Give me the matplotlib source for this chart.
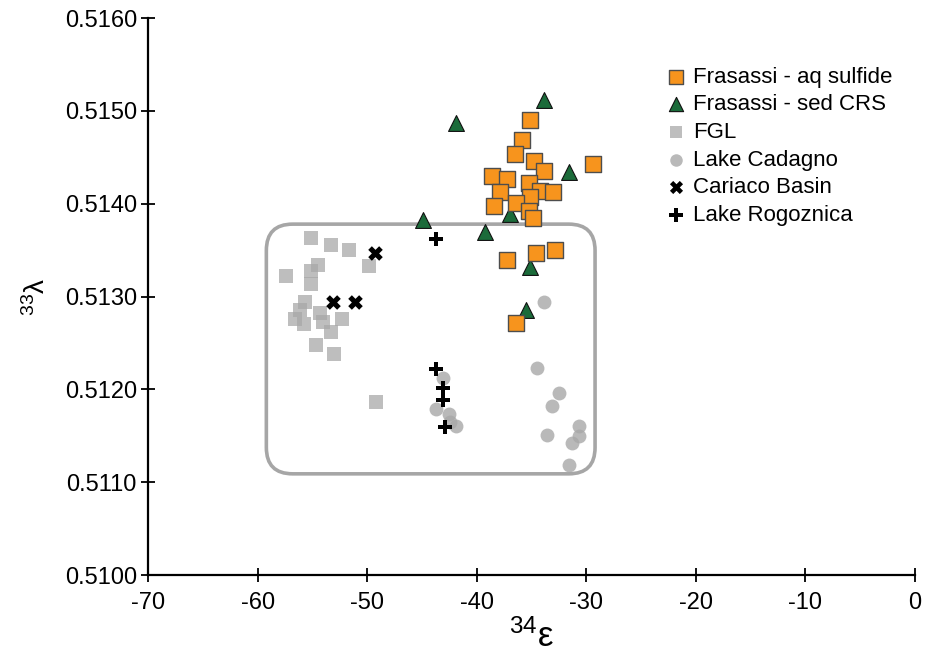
import numpy as np
import matplotlib
matplotlib.use("Agg")
import matplotlib.pyplot as plt
from matplotlib.patches import FancyBboxPatch

plt.rcParams['font.family'] = ['Liberation Sans', 'DejaVu Sans']
plt.rcParams['mathtext.fontset'] = 'custom'
plt.rcParams['mathtext.rm'] = 'Liberation Sans'
plt.rcParams['mathtext.it'] = 'Liberation Sans'
plt.rcParams['axes.unicode_minus'] = False

# Frasassi - aq sulfide
aq_x = [-35.1, -35.9, -36.5, -34.8, -33.9, -29.4, -38.6, -37.2, -35.2, -37.9,
        -34.2, -33.0, -35.1, -38.4, -36.4, -35.2, -34.9, -37.2, -34.6, -32.9, -36.4]
aq_y = [0.51490, 0.51469, 0.51454, 0.51446, 0.51435, 0.51443, 0.51430, 0.51427,
        0.51422, 0.51413, 0.51414, 0.51413, 0.51407, 0.51398, 0.51401, 0.51392,
        0.51385, 0.51339, 0.51347, 0.51350, 0.51272]

# Frasassi - sed CRS
crs_x = [-33.9, -41.9, -31.6, -37.0, -44.9, -39.2, -35.1, -35.5]
crs_y = [0.51512, 0.51487, 0.51434, 0.51389, 0.51382, 0.51370, 0.51332, 0.51286]

# FGL
fgl_x = [-55.1, -53.3, -51.7, -57.4, -54.5, -55.1, -55.1, -49.8, -55.7, -56.1,
         -56.6, -55.8, -54.3, -54.0, -52.3, -53.3, -54.7, -53.0, -49.2]
fgl_y = [0.51363, 0.51356, 0.51350, 0.51322, 0.51334, 0.51327, 0.51313, 0.51333,
         0.51294, 0.51285, 0.51276, 0.51270, 0.51282, 0.51273, 0.51276, 0.51262,
         0.51248, 0.51238, 0.51186]

# Lake Cadagno
cad_x = [-33.9, -43.1, -43.7, -42.5, -41.9, -42.4, -34.5, -32.5, -33.1, -33.6,
         -30.7, -30.7, -31.3, -31.6]
cad_y = [0.51294, 0.51212, 0.51179, 0.51173, 0.51160, 0.51165, 0.51223, 0.51196,
         0.51182, 0.51151, 0.51160, 0.51150, 0.51142, 0.51119]

# Cariaco Basin
car_x = [-49.3, -53.1, -51.1]
car_y = [0.51347, 0.51294, 0.51294]

# Lake Rogoznica
rog_x = [-43.7, -43.7, -43.1, -43.1, -42.9]
rog_y = [0.51362, 0.51222, 0.51201, 0.51189, 0.51159]

# rounded box bounds (data units)
box_x0, box_x1 = -59.2, -29.2
box_y0, box_y1 = 0.51109, 0.51378

fig = plt.figure(figsize=(9.28, 6.69), dpi=100)
ax = fig.add_axes([0.1595, 0.1405, 0.8265, 0.8325])
ax.set_xlim(-70, 0)
ax.set_ylim(0.5100, 0.5160)

# rounded box, corrected for axis aspect
ax_w = 0.8265 * 9.28 * 100
ax_h = 0.8325 * 6.69 * 100
aspect = (0.006 / ax_h) / (70 / ax_w)
box = FancyBboxPatch((box_x0, box_y0), box_x1 - box_x0, box_y1 - box_y0,
                     boxstyle="round,pad=0,rounding_size=2.4",
                     mutation_aspect=aspect, fill=False,
                     edgecolor='#a6a6a6', linewidth=2.6, zorder=1)
ax.add_patch(box)

ax.scatter(fgl_x, fgl_y, marker='s', s=95, color='#a8a8a8', alpha=0.75,
           linewidths=0, label='FGL', zorder=2)
ax.scatter(cad_x, cad_y, marker='o', s=100, color='#a8a8a8', alpha=0.8,
           linewidths=0, label='Lake Cadagno', zorder=2)
ax.scatter(crs_x, crs_y, marker='^', s=130, color='#1b6b3a', edgecolors='#111111',
           linewidths=0.8, label='Frasassi - sed CRS', zorder=3)
ax.scatter(aq_x, aq_y, marker='s', s=130, color='#f7941d', edgecolors='#4d4d4d',
           linewidths=1.0, label='Frasassi - aq sulfide', zorder=3)
ax.scatter(car_x, car_y, marker='X', s=110, color='black', linewidths=0,
           label='Cariaco Basin', zorder=4)
ax.scatter(rog_x, rog_y, marker='P', s=110, color='black', linewidths=0,
           label='Lake Rogoznica', zorder=4)

for s in ['top', 'right']:
    ax.spines[s].set_visible(False)
for s in ['left', 'bottom']:
    ax.spines[s].set_linewidth(1.6)

yt = np.arange(0.5100, 0.51601, 0.0010)
ax.set_xticks(np.arange(-70, 1, 10))
ax.set_yticks(yt)
ax.set_yticklabels([f"{v:.4f}" for v in yt])
ax.tick_params(direction='inout', length=10, width=1.3, labelsize=17)
ax.tick_params(axis='y', pad=3)
ax.tick_params(axis='x', pad=7)

ax.set_xlabel(r'$^{34}\mathrm{\varepsilon}$', fontsize=25, labelpad=4)
ax.set_ylabel(r'$^{33}\mathrm{\lambda}$', fontsize=20, labelpad=10)

handles, labels = ax.get_legend_handles_labels()
order = ['Frasassi - aq sulfide', 'Frasassi - sed CRS', 'FGL', 'Lake Cadagno',
         'Cariaco Basin', 'Lake Rogoznica']
hmap = dict(zip(labels, handles))
ax.legend([hmap[l] for l in order], order, loc='upper left',
          bbox_to_anchor=(0.705, 0.917), bbox_transform=fig.transFigure,
          frameon=False, fontsize=16, handletextpad=0.25, labelspacing=0.3,
          borderpad=0, markerscale=0.9, handlelength=1.0)

fig.savefig('out.png', dpi=100)
